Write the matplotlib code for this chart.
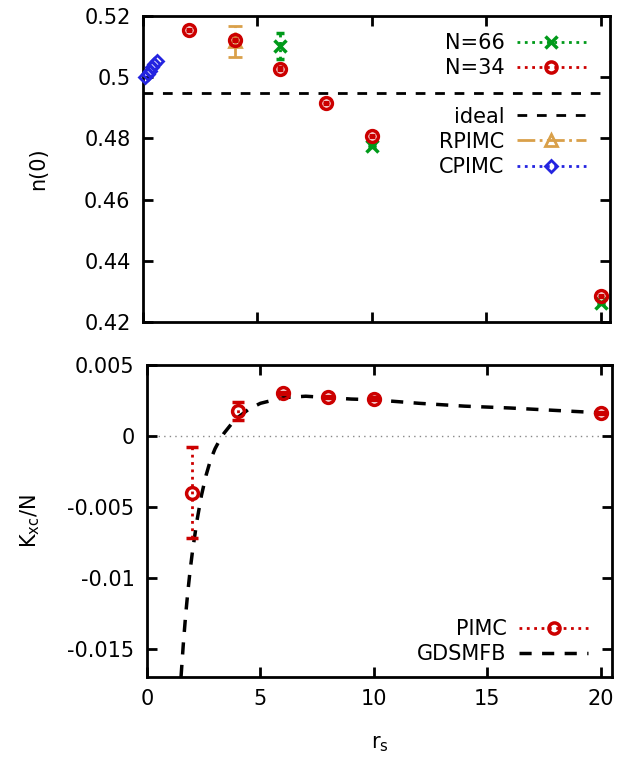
import matplotlib
matplotlib.use("Agg")
import matplotlib.pyplot as plt
from matplotlib.lines import Line2D

plt.rcParams['font.family'] = ['DejaVu Sans']
plt.rcParams['font.size'] = 15

# top panel data
rs_n66 = [6, 10, 20]
n_n66 = [0.5102, 0.4776, 0.4262]
err_n66 = [0.0042, 0.0003, 0.0003]

rs_n34 = [2, 4, 6, 8, 10, 20]
n_n34 = [0.5154, 0.5122, 0.5028, 0.4915, 0.4808, 0.4285]
err_n34 = [0.0003, 0.0004, 0.0004, 0.0003, 0.0004, 0.0003]

n_ideal = 0.4947

rs_rpimc = [4]
n_rpimc = [0.5117]
err_rpimc = [0.005]

rs_cpimc = [0.1, 0.2, 0.3, 0.4, 0.5, 0.6]
n_cpimc = [0.4999, 0.5010, 0.5021, 0.5032, 0.5042, 0.5053]

# bottom panel data
rs_pimc = [2, 4, 6, 8, 10, 20]
k_pimc = [-0.00401, 0.00176, 0.00303, 0.00275, 0.00261, 0.00162]
err_pimc = [0.0032, 0.00064, 0.0001, 0.0001, 0.0001, 0.0001]

rs_gdsmfb = [1.5, 1.6, 1.7, 1.8, 1.9, 2.0, 2.2, 2.4, 2.6, 2.8, 3.0, 3.2, 3.4,
             3.7, 4.0, 4.5, 5.0, 5.5, 6.0, 7.0, 8.0, 9.0, 10, 12, 14, 16, 18, 20, 20.5]
k_gdsmfb = [-0.0170, -0.0147, -0.0127, -0.0110, -0.0095, -0.0082, -0.0060, -0.0042,
            -0.0028, -0.0017, -0.0009, -0.0003, 0.0002, 0.0008, 0.0013, 0.0019, 0.0023,
            0.0025, 0.0027, 0.0028, 0.0027, 0.0026, 0.00255, 0.0023, 0.0021, 0.00197,
            0.0018, 0.00163, 0.0016]

red = '#cc0000'
green = '#009a1a'
tan = '#d9a04a'
blue = '#2424e0'

fig = plt.figure(figsize=(6.25, 7.57), dpi=100)
ax1 = fig.add_axes([0.2288, 0.5746, 0.976 - 0.2288, 0.9789 - 0.5746])
ax2 = fig.add_axes([0.2352, 0.1057, 0.9792 - 0.2352, 0.5178 - 0.1057])


def dotted_bars(eb, ls):
    for lc in eb[2]:
        lc.set_linestyle(ls)


# --- top panel ---
ax1.axhline(n_ideal, color='black', lw=2, dashes=(3.5, 3.5))
eb = ax1.errorbar(rs_rpimc, n_rpimc, yerr=err_rpimc, fmt='^', color=tan, mfc='none',
                  mew=2, ms=8, capsize=5, capthick=2, elinewidth=2, zorder=3)
dotted_bars(eb, '-.')
eb = ax1.errorbar(rs_n66, n_n66, yerr=err_n66, fmt='x', color=green, mew=2.5, ms=8,
                  capsize=3, capthick=2, elinewidth=2, zorder=3)
dotted_bars(eb, ':')
eb = ax1.errorbar(rs_n34, n_n34, yerr=err_n34, fmt='o', color=red, mfc='none', mew=2.5,
                  ms=8.5, capsize=2, capthick=1.5, elinewidth=1.5, zorder=4)
dotted_bars(eb, ':')
ax1.plot(rs_cpimc, n_cpimc, 'D', color=blue, mfc='none', mew=2, ms=6, clip_on=False, zorder=5)

ax1.set_xlim(0, 20.4)
ax1.set_ylim(0.42, 0.52)
ax1.set_yticks([0.42, 0.44, 0.46, 0.48, 0.5, 0.52])
ax1.set_yticklabels(['0.42', '0.44', '0.46', '0.48', '0.5', '0.52'])
ax1.set_xticks([0, 5, 10, 15, 20])
ax1.set_xticklabels([])
ax1.set_ylabel('n(0)', labelpad=26)

h_a = [Line2D([], [], color=green, ls=':', lw=2, marker='x', ms=8, mew=2.5),
       Line2D([], [], color=red, ls=':', lw=2, marker='o', mfc='none', ms=8, mew=2.5)]
leg1 = ax1.legend(h_a, ['N=66', 'N=34'], loc='upper right', bbox_to_anchor=(0.975, 0.985),
                  frameon=False, markerfirst=False, handlelength=3.3, labelspacing=0.25,
                  handletextpad=0.6, borderaxespad=0.2)
ax1.add_artist(leg1)
h_b = [Line2D([], [], color='black', lw=2, dashes=(3.5, 3.5)),
       Line2D([], [], color=tan, ls='-.', lw=2, marker='^', mfc='none', ms=8, mew=2),
       Line2D([], [], color=blue, ls=':', lw=2, marker='D', mfc='none', ms=6, mew=2)]
ax1.legend(h_b, ['ideal', 'RPIMC', 'CPIMC'], loc='upper right', bbox_to_anchor=(0.975, 0.745),
           frameon=False, markerfirst=False, handlelength=3.3, labelspacing=0.25,
           handletextpad=0.6, borderaxespad=0.2)

# --- bottom panel ---
ax2.axhline(0, color='#888888', lw=1, ls=(0, (1, 3)), zorder=1)
ax2.plot(rs_gdsmfb, k_gdsmfb, color='black', lw=2.5, dashes=(3.5, 3), zorder=2)
eb = ax2.errorbar(rs_pimc, k_pimc, yerr=err_pimc, fmt='o', color=red, mfc='none', mew=2.5,
                  ms=8.5, capsize=4, capthick=2, elinewidth=2, zorder=3)
dotted_bars(eb, ':')

ax2.set_xlim(0, 20.5)
ax2.set_ylim(-0.017, 0.005)
ax2.set_yticks([-0.015, -0.01, -0.005, 0, 0.005])
ax2.set_yticklabels(['-0.015', '-0.01', '-0.005', '0', '0.005'])
ax2.set_xticks([0, 5, 10, 15, 20])
ax2.set_xlabel(r'r$_\mathregular{s}$', labelpad=18)
ax2.set_ylabel(r'K$_\mathregular{xc}$/N', labelpad=18)

h_c = [Line2D([], [], color=red, ls=':', lw=2, marker='o', mfc='none', ms=8, mew=2.5),
       Line2D([], [], color='black', lw=2.5, dashes=(3.5, 3))]
ax2.legend(h_c, ['PIMC', 'GDSMFB'], loc='lower right', bbox_to_anchor=(0.975, 0.0),
           frameon=False, markerfirst=False, handlelength=3.3, labelspacing=0.25,
           handletextpad=0.6, borderaxespad=0.2)

for ax in (ax1, ax2):
    for sp in ax.spines.values():
        sp.set_linewidth(2)
    ax.tick_params(direction='in', length=7, width=2, top=True, right=True, pad=9)

fig.savefig('out.png', dpi=100)
